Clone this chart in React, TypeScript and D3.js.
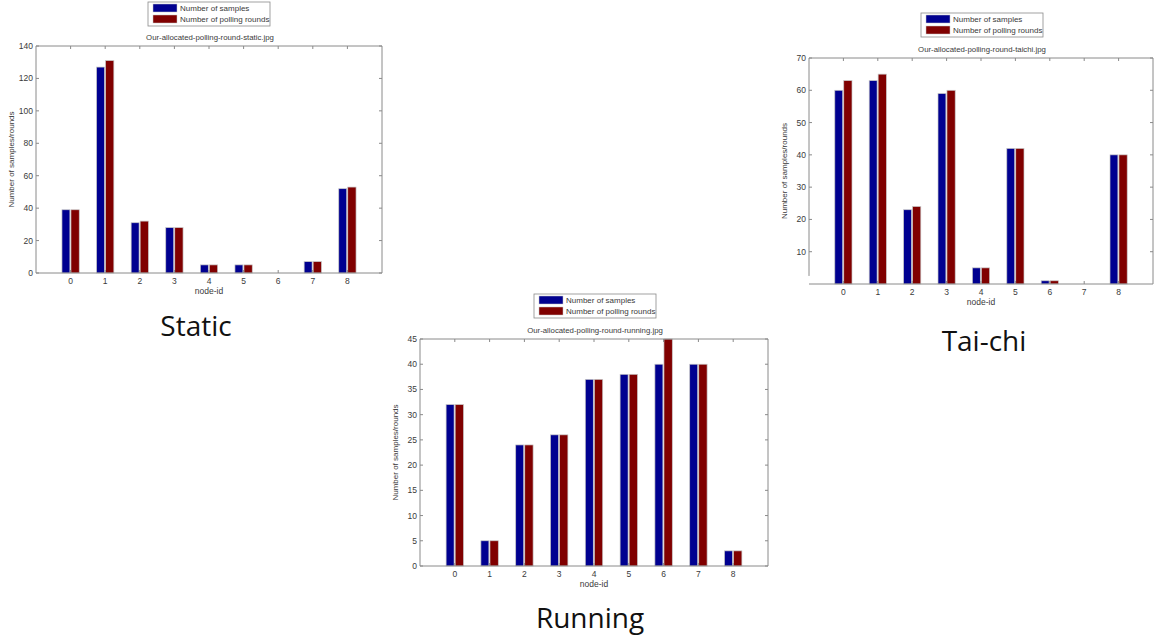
import React, { useEffect, useRef } from 'react';
import * as d3 from 'd3';

const nodeIds = [0, 1, 2, 3, 4, 5, 6, 7, 8];
const seriesNames = ['Number of samples', 'Number of polling rounds'];
const seriesColors = ['#000090', '#800000'];

const staticSamples = [39, 127, 31, 28, 5, 5, 0, 7, 52];
const staticRounds = [39, 131, 32, 28, 5, 5, 0, 7, 53];

const taichiSamples = [60, 63, 23, 59, 5, 42, 1, 0, 40];
const taichiRounds = [63, 65, 24, 60, 5, 42, 1, 0, 40];

const runningSamples = [32, 5, 24, 26, 37, 38, 40, 40, 3];
const runningRounds = [32, 5, 24, 26, 37, 38, 45, 40, 3];

const staticTicks = [0, 20, 40, 60, 80, 100, 120, 140];
const taichiTicks = [10, 20, 30, 40, 50, 60, 70];
const runningTicks = [0, 5, 10, 15, 20, 25, 30, 35, 40, 45];

const panels = [
  {
    title: 'Our-allocated-polling-round-static.jpg', caption: 'Static',
    samples: staticSamples, rounds: staticRounds, yMax: 140, ticks: staticTicks,
    box: { left: 36, right: 382, top: 46, bottom: 273 },
    legend: { x: 148, y: 2 }, captionPos: { x: 196, y: 336 }, axisGap: false,
  },
  {
    title: 'Our-allocated-polling-round-taichi.jpg', caption: 'Tai-chi',
    samples: taichiSamples, rounds: taichiRounds, yMax: 70, ticks: taichiTicks,
    box: { left: 809, right: 1153, top: 58, bottom: 284 },
    legend: { x: 921, y: 13 }, captionPos: { x: 984, y: 351 }, axisGap: true,
  },
  {
    title: 'Our-allocated-polling-round-running.jpg', caption: 'Running',
    samples: runningSamples, rounds: runningRounds, yMax: 45, ticks: runningTicks,
    box: { left: 420, right: 768, top: 339, bottom: 566 },
    legend: { x: 534, y: 294 }, captionPos: { x: 590, y: 628 }, axisGap: false,
  },
];

const App = () => {
  const svgRef = useRef<SVGSVGElement>(null);

  useEffect(() => {
    const svg = d3.select(svgRef.current);
    svg.selectAll('*').remove();
    const font = 'Liberation Sans, Arial, sans-serif';
    const axisColor = '#8a8a8a';
    const textColor = '#3a3a3a';

    panels.forEach(p => {
      const { left, right, top, bottom } = p.box;
      const g = svg.append('g');

      const x = d3.scaleLinear().domain([-1, 9]).range([left, right]);
      const y = d3.scaleLinear().domain([0, p.yMax]).range([bottom, top]);

      // bars
      const series = [p.samples, p.rounds];
      const offsets = [[-0.25, -0.02], [0.01, 0.25]];
      series.forEach((vals, si) => {
        g.selectAll(`.bar-${si}`)
          .data(nodeIds.filter((_, i) => vals[i] > 0))
          .enter().append('rect')
          .attr('x', d => x(d + offsets[si][0]))
          .attr('width', d => x(d + offsets[si][1]) - x(d + offsets[si][0]))
          .attr('y', d => y(vals[d]))
          .attr('height', d => y(0) - y(vals[d]))
          .attr('fill', seriesColors[si])
          .attr('stroke', '#c8c8c8')
          .attr('stroke-width', 0.7);
      });

      // box
      const yAxisBottom = p.axisGap ? y(2.5) : bottom;
      g.append('line').attr('x1', left).attr('x2', right).attr('y1', bottom).attr('y2', bottom).attr('stroke', axisColor);
      g.append('line').attr('x1', left).attr('x2', right).attr('y1', top).attr('y2', top).attr('stroke', axisColor);
      g.append('line').attr('x1', left).attr('x2', left).attr('y1', top).attr('y2', yAxisBottom).attr('stroke', axisColor);
      g.append('line').attr('x1', right).attr('x2', right).attr('y1', top).attr('y2', bottom).attr('stroke', axisColor);

      // x ticks (inward, top and bottom)
      nodeIds.forEach(n => {
        g.append('line').attr('x1', x(n)).attr('x2', x(n)).attr('y1', bottom).attr('y2', bottom - 3).attr('stroke', axisColor);
        g.append('line').attr('x1', x(n)).attr('x2', x(n)).attr('y1', top).attr('y2', top + 3).attr('stroke', axisColor);
        g.append('text').attr('x', x(n)).attr('y', bottom + 11)
          .attr('text-anchor', 'middle').attr('font-family', font).attr('font-size', 8.5)
          .attr('fill', textColor).text(n);
      });

      // y ticks
      p.ticks.forEach(t => {
        g.append('line').attr('x1', left).attr('x2', left + 3).attr('y1', y(t)).attr('y2', y(t)).attr('stroke', axisColor);
        g.append('line').attr('x1', right).attr('x2', right - 3).attr('y1', y(t)).attr('y2', y(t)).attr('stroke', axisColor);
        g.append('text').attr('x', left - 3).attr('y', y(t) + 3)
          .attr('text-anchor', 'end').attr('font-family', font).attr('font-size', 8.5)
          .attr('fill', textColor).text(t);
      });

      // axis labels and title
      g.append('text').attr('x', (left + right) / 2).attr('y', bottom + 21)
        .attr('text-anchor', 'middle').attr('font-family', font).attr('font-size', 8.5)
        .attr('fill', textColor).text('node-id');
      g.append('text')
        .attr('transform', `translate(${left - 22},${(top + bottom) / 2}) rotate(-90)`)
        .attr('text-anchor', 'middle').attr('font-family', font).attr('font-size', 8)
        .attr('fill', textColor).text('Number of samples/rounds');
      g.append('text').attr('x', (left + right) / 2 + 1).attr('y', top - 6)
        .attr('text-anchor', 'middle').attr('font-family', font).attr('font-size', 7.8)
        .attr('fill', textColor).text(p.title);

      // legend
      const lg = g.append('g').attr('transform', `translate(${p.legend.x},${p.legend.y})`);
      lg.append('rect').attr('width', 122).attr('height', 24)
        .attr('fill', 'white').attr('stroke', '#8a8a8a').attr('stroke-width', 0.8);
      seriesNames.forEach((name, i) => {
        lg.append('rect').attr('x', 5).attr('y', 2 + i * 11).attr('width', 24).attr('height', 8)
          .attr('fill', seriesColors[i]).attr('stroke', '#c8c8c8').attr('stroke-width', 0.5);
        lg.append('text').attr('x', 32).attr('y', 9 + i * 11)
          .attr('font-family', font).attr('font-size', 8).attr('fill', textColor).text(name);
      });

      // caption
      svg.append('text').attr('x', p.captionPos.x).attr('y', p.captionPos.y)
        .attr('text-anchor', 'middle').attr('font-family', 'Open Sans, sans-serif')
        .attr('font-size', 28).attr('fill', '#111').text(p.caption);
    });
  }, []);

  return (
    <div style={{ position: 'absolute', left: 0, top: 0, width: 1161, height: 638, background: 'white' }}>
      <svg ref={svgRef} width={1161} height={638} style={{ display: 'block' }}></svg>
    </div>
  );
};

export default App;
